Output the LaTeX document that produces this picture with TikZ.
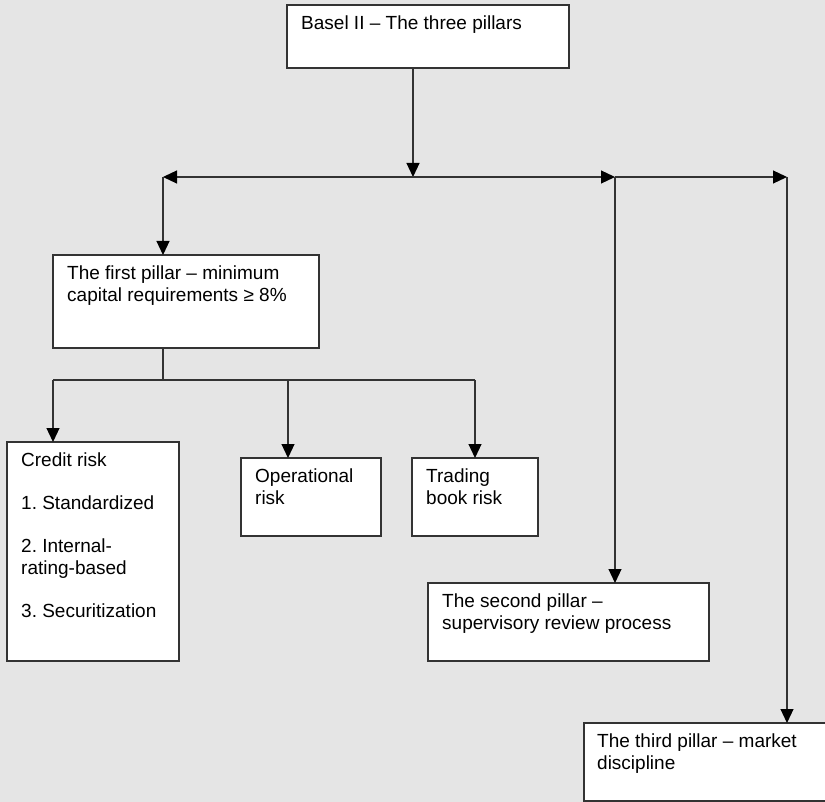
\documentclass[tikz,border=0pt]{standalone}
\usepackage{fontspec}
\setmainfont{Liberation Sans}
\frenchspacing
\usetikzlibrary{arrows.meta,calc}
\definecolor{bgcol}{HTML}{E5E5E5}
\definecolor{linecol}{HTML}{333333}
\tikzset{
  boxrect/.style={draw=linecol, fill=white, line width=1.2pt},
  lbl/.style={anchor=base west, inner sep=0pt, font=\fontsize{19}{22}\selectfont},
  conn/.style={draw=linecol, line width=1.2pt},
  tip/.tip={Triangle[length=14pt,width=13pt,color=black,fill=black]},
  arr/.style={conn, -tip},
  darr/.style={conn, tip-tip},
}
\newcommand{\boxtext}[1]{\parbox[t]{300pt}{\raggedright #1}}
\begin{document}
\begin{tikzpicture}[x=1pt,y=-1pt]
\fill[bgcol] (0,0) rectangle (825,802);
\useasboundingbox (0,0) rectangle (825,802);

% boxes
\path[boxrect] (287,5) rectangle (569,68);
\coordinate (top-nw) at (287,5); \coordinate (top-s) at (413,68);
\path[boxrect] (53,255) rectangle (319,348);
\coordinate (p1-nw) at (53,255);
\path[boxrect] (7,442) rectangle (179,661);
\coordinate (cr-nw) at (7,442);
\path[boxrect] (241,458) rectangle (381,536);
\coordinate (op-nw) at (241,458);
\path[boxrect] (412,458) rectangle (538,536);
\coordinate (tr-nw) at (412,458);
\path[boxrect] (428,583) rectangle (709,661);
\coordinate (p2-nw) at (428,583);
\path[boxrect] (584,723) rectangle (832,801);
\coordinate (p3-nw) at (584,723);

% texts
\node[lbl] (ttop) at ($(top-nw)+(14,24.5)$) {\boxtext{Basel II – The three pillars}};
\node[lbl] (tp1) at ($(p1-nw)+(14,24.5)$) {\boxtext{The first pillar – minimum\\capital requirements ≥ 8\%}};
\node[lbl] (tcr) at ($(cr-nw)+(14,24.5)$) {\boxtext{Credit risk\\[21pt]1. Standardized\\[21pt]2. Internal-\\rating-based\\[21pt]3. Securitization}};
\node[lbl] (top) at ($(op-nw)+(14,24.5)$) {\boxtext{Operational\\risk}};
\node[lbl] (ttr) at ($(tr-nw)+(14,24.5)$) {\boxtext{Trading\\book risk}};
\node[lbl] (tp2) at ($(p2-nw)+(14,24.5)$) {\boxtext{The second pillar –\\supervisory review process}};
\node[lbl] (tp3) at ($(p3-nw)+(13,24.5)$) {\boxtext{The third pillar – market\\discipline}};

% junction coordinates
\coordinate (hmid) at (413,177);
\coordinate (hL) at (163,177);
\coordinate (hM) at (615,177);
\coordinate (hR) at (787,177);
\coordinate (p1-top) at (163,255);
\coordinate (p1-bot) at (163,348);
\coordinate (lmid) at (163,380);
\coordinate (lL) at (53,380);
\coordinate (lM) at (288,380);
\coordinate (lR) at (475,380);

% connectors
\draw[arr] (top-s) -- (hmid);
\draw[darr] (hL) -- (hM);
\draw[arr] (hM) -- (hR);
\draw[arr] (hL) -- (p1-top);
\draw[arr] (hM) -- (hM |- p2-nw);
\draw[arr] (hR) -- (hR |- p3-nw);
\draw[conn] (p1-bot) -- (lmid);
\draw[conn] (lL) -- (lR);
\draw[arr] (lL) -- (lL |- cr-nw);
\draw[arr] (lM) -- (lM |- op-nw);
\draw[arr] (lR) -- (lR |- tr-nw);
\end{tikzpicture}
\end{document}
